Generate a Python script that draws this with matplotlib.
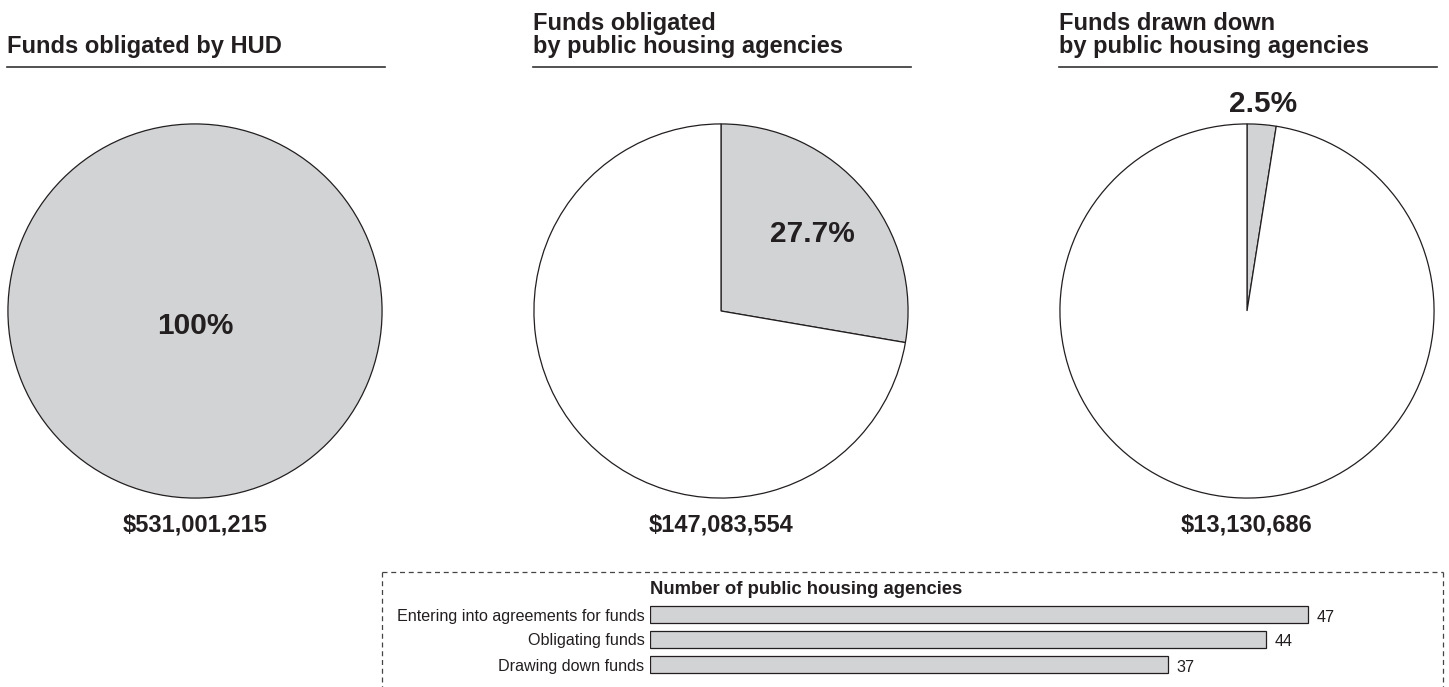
import numpy as np
import matplotlib.pyplot as plt
from matplotlib.lines import Line2D

plt.rcParams['font.family'] = ['Liberation Sans', 'DejaVu Sans']

# ── data ──────────────────────────────────────────────────────────────
pie_titles = ['Funds obligated by HUD',
              'Funds obligated\nby public housing agencies',
              'Funds drawn down\nby public housing agencies']
pie_shares = [100.0, 27.7, 2.5]
pie_labels = ['100%', '27.7%', '2.5%']
pie_totals = ['$531,001,215', '$147,083,554', '$13,130,686']

bar_title = 'Number of public housing agencies'
bar_cats = ['Entering into agreements for funds', 'Obligating funds', 'Drawing down funds']
bar_vals = [47, 44, 37]

GRAY = '#d2d3d5'
INK = '#231f20'

W, H = 1449, 687
fig = plt.figure(figsize=(W / 100, H / 100), dpi=100, facecolor='white')


def fx(x):
    return x / W


def fy(y):
    return 1 - y / H


# ── pies ──────────────────────────────────────────────────────────────
pie_left = [7, 533, 1059]
D = 376
top = 123
for left, title, share, lab, tot in zip(pie_left, pie_titles, pie_shares,
                                        pie_labels, pie_totals):
    ax = fig.add_axes([fx(left), fy(top + D), D / W, D / H])
    vals = [v for v in (share, 100 - share) if v > 0]
    cols = [GRAY, 'white'][:len(vals)]
    ax.pie(vals, colors=cols, startangle=90, counterclock=False, radius=1,
           wedgeprops=dict(edgecolor=INK, linewidth=0.9))
    ax.set_xlim(-1.005, 1.005)
    ax.set_ylim(-1.005, 1.005)
    ax.set_aspect('equal')
    ax.axis('off')

    # label position from the wedge mid-angle
    if share >= 100:
        lx, ly = 0, -0.08
    else:
        mid = np.deg2rad(90 - share / 100 * 360 / 2)
        r = 0.64 if share > 10 else 1.11
        lx, ly = r * np.cos(mid), r * np.sin(mid)
    ax.text(lx, ly, lab, ha='center', va='center', fontsize=21.5,
            fontweight='bold', color=INK, clip_on=False)

    cx = left + D / 2
    fig.text(fx(cx), fy(525), tot, ha='center', va='center', fontsize=17,
             fontweight='bold', color=INK)
    fig.text(fx(left), fy(58), title, ha='left', va='bottom', fontsize=17,
             fontweight='bold', color=INK, linespacing=1.0)
    fig.add_artist(Line2D([fx(left), fx(left + D + 2)], [fy(67), fy(67)],
                          color='#333333', lw=1.2))

# ── bar panel ─────────────────────────────────────────────────────────
bx = fig.add_axes([fx(650), fy(677), 700 / W, 75 / H])
ypos = list(range(len(bar_cats)))
bx.barh(ypos, bar_vals, height=0.68, color=GRAY, edgecolor=INK, linewidth=0.9)
bx.set_xlim(0, 50)
bx.set_ylim(len(bar_cats) - 0.5, -0.5)
bx.set_yticks(ypos)
bx.set_yticklabels(bar_cats, fontsize=11.6, color=INK)
bx.tick_params(axis='y', length=0, pad=4)
bx.set_xticks([])
for s in bx.spines.values():
    s.set_visible(False)
for y, v in zip(ypos, bar_vals):
    bx.text(v + 0.6, y + 0.1, str(v), ha='left', va='center', fontsize=11.6,
            color=INK)
fig.text(fx(650), fy(590), bar_title, ha='left', va='center', fontsize=13.3,
         fontweight='bold', color=INK)

# dashed frame around the bar panel
dash = dict(color='#444444', lw=0.9, linestyle=(0, (4, 3)))
fig.add_artist(Line2D([fx(382), fx(1443)], [fy(572), fy(572)], **dash))
fig.add_artist(Line2D([fx(382), fx(382)], [fy(572), fy(690)], **dash))
fig.add_artist(Line2D([fx(1443), fx(1443)], [fy(572), fy(690)], **dash))

fig.savefig('out.png', dpi=100, facecolor='white')
